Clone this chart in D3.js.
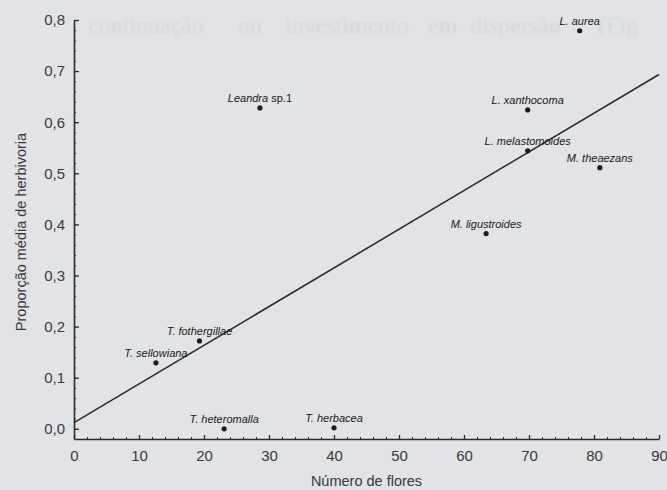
<!DOCTYPE html>
<html>
<head>
<meta charset="utf-8">
<script src="https://cdn.jsdelivr.net/npm/d3@7"></script>
<style>
  html, body { margin: 0; padding: 0; background: #e1e3e7; }
  svg { display: block; }
</style>
</head>
<body>
<svg id="chart" width="667" height="490"></svg>
<script>
// Species, number of flowers and mean proportion of herbivory
const species = ["L. aurea", "Leandra sp.1", "L. xanthocoma", "L. melastomoides", "M. theaezans",
                 "M. ligustroides", "T. fothergillae", "T. sellowiana", "T. heteromalla", "T. herbacea"];
const flowers = [77.8, 28.6, 69.8, 69.8, 80.9, 63.4, 19.3, 12.6, 23.1, 40.0];
const herbivory = [0.779, 0.628, 0.624, 0.544, 0.511, 0.382, 0.172, 0.129, 0.0, 0.002];

// Fitted linear regression
const regIntercept = 0.012;
const regSlope = 0.00757;

// Axis ticks
const xTicks = [0, 10, 20, 30, 40, 50, 60, 70, 80, 90];
const yTicks = [0, 0.1, 0.2, 0.3, 0.4, 0.5, 0.6, 0.7, 0.8];
const xMinorTicks = d3.range(0, 90.001, 2);
const yMinorTicks = d3.range(0, 0.8001, 0.02);

// Faint text from the facing page
const bleedWords = ["continuação", "ou", "investimento", "em", "dispersão", "(Fig"];
const bleedX = [88, 238, 285, 428, 470, 598];

const svg = d3.select("#chart");
const ink = "#2b2b2b";

// background text bleed, slightly soft
svg.append("defs").append("filter")
  .attr("id", "soft")
  .append("feGaussianBlur").attr("stdDeviation", 0.8);

svg.append("g")
  .attr("font-family", "'Liberation Serif', 'DejaVu Serif', serif")
  .attr("font-size", 24)
  .attr("fill", "#d3d5da")
  .attr("filter", "url(#soft)")
  .selectAll("text")
  .data(bleedWords)
  .join("text")
  .attr("x", (d, i) => bleedX[i])
  .attr("y", 33)
  .text(d => d);

const x = d3.scaleLinear().domain([0, 90]).range([74, 659]);
const y = d3.scaleLinear().domain([-0.02, 0.8]).range([439, 20]);
const fmt = d => d3.format(".1f")(d).replace(".", ",");

const axisFont = "'Liberation Sans', Arial, sans-serif";

// minor ticks
svg.append("g")
  .attr("transform", `translate(0,${y(-0.02)})`)
  .call(d3.axisBottom(x).tickValues(xMinorTicks).tickSize(-2).tickSizeOuter(0).tickFormat(""))
  .call(g => g.select(".domain").remove())
  .call(g => g.selectAll("line").attr("stroke", ink).attr("stroke-width", 1));
svg.append("g")
  .attr("transform", `translate(${x(0)},0)`)
  .call(d3.axisLeft(y).tickValues(yMinorTicks).tickSize(-2).tickSizeOuter(0).tickFormat(""))
  .call(g => g.select(".domain").remove())
  .call(g => g.selectAll("line").attr("stroke", ink).attr("stroke-width", 1));

// major axes
const xAxis = svg.append("g")
  .attr("transform", `translate(0,${y(-0.02)})`)
  .call(d3.axisBottom(x).tickValues(xTicks).tickSize(-4).tickSizeOuter(0).tickPadding(11).tickFormat(d3.format("d")));
const yAxis = svg.append("g")
  .attr("transform", `translate(${x(0)},0)`)
  .call(d3.axisLeft(y).tickValues(yTicks).tickSize(-5).tickSizeOuter(0).tickPadding(9).tickFormat(fmt));

[xAxis, yAxis].forEach(g => {
  g.select(".domain").attr("stroke", ink).attr("stroke-width", 1.6);
  g.selectAll(".tick line").attr("stroke", ink).attr("stroke-width", 1.3);
  g.selectAll(".tick text")
    .attr("font-family", axisFont)
    .attr("font-size", 15)
    .attr("fill", "#3a3a3a");
});

// axis titles
svg.append("text")
  .attr("x", (x(0) + x(90)) / 2)
  .attr("y", 486)
  .attr("text-anchor", "middle")
  .attr("font-family", axisFont)
  .attr("font-size", 14.5)
  .attr("fill", "#3a3a3a")
  .text("Número de flores");

svg.append("text")
  .attr("transform", `translate(26,${232}) rotate(-90)`)
  .attr("text-anchor", "middle")
  .attr("font-family", axisFont)
  .attr("font-size", 14.5)
  .attr("fill", "#3a3a3a")
  .text("Proporção média de herbivoria");

// regression line
svg.append("line")
  .attr("x1", x(0))
  .attr("y1", y(regIntercept))
  .attr("x2", x(90))
  .attr("y2", y(regIntercept + regSlope * 90))
  .attr("stroke", ink)
  .attr("stroke-width", 1.6);

// points and labels
const pts = species.map((s, i) => ({ name: s, fx: flowers[i], hy: herbivory[i] }));

svg.append("g").selectAll("circle")
  .data(pts)
  .join("circle")
  .attr("cx", d => x(d.fx))
  .attr("cy", d => y(d.hy))
  .attr("r", 2.6)
  .attr("fill", "#1e1e1e");

const labels = svg.append("g")
  .attr("font-family", axisFont)
  .attr("font-size", 11)
  .attr("fill", "#1a1a1a")
  .selectAll("text")
  .data(pts)
  .join("text")
  .attr("x", d => x(d.fx))
  .attr("y", d => y(d.hy) - 6)
  .attr("text-anchor", "middle");

labels.each(function (d) {
  const t = d3.select(this);
  const m = d.name.match(/^(.*?)( sp\.\d+)$/);
  if (m) {
    t.append("tspan").attr("font-style", "italic").text(m[1]);
    t.append("tspan").text(m[2]);
  } else {
    t.append("tspan").attr("font-style", "italic").text(d.name);
  }
});
</script>
</body>
</html>
